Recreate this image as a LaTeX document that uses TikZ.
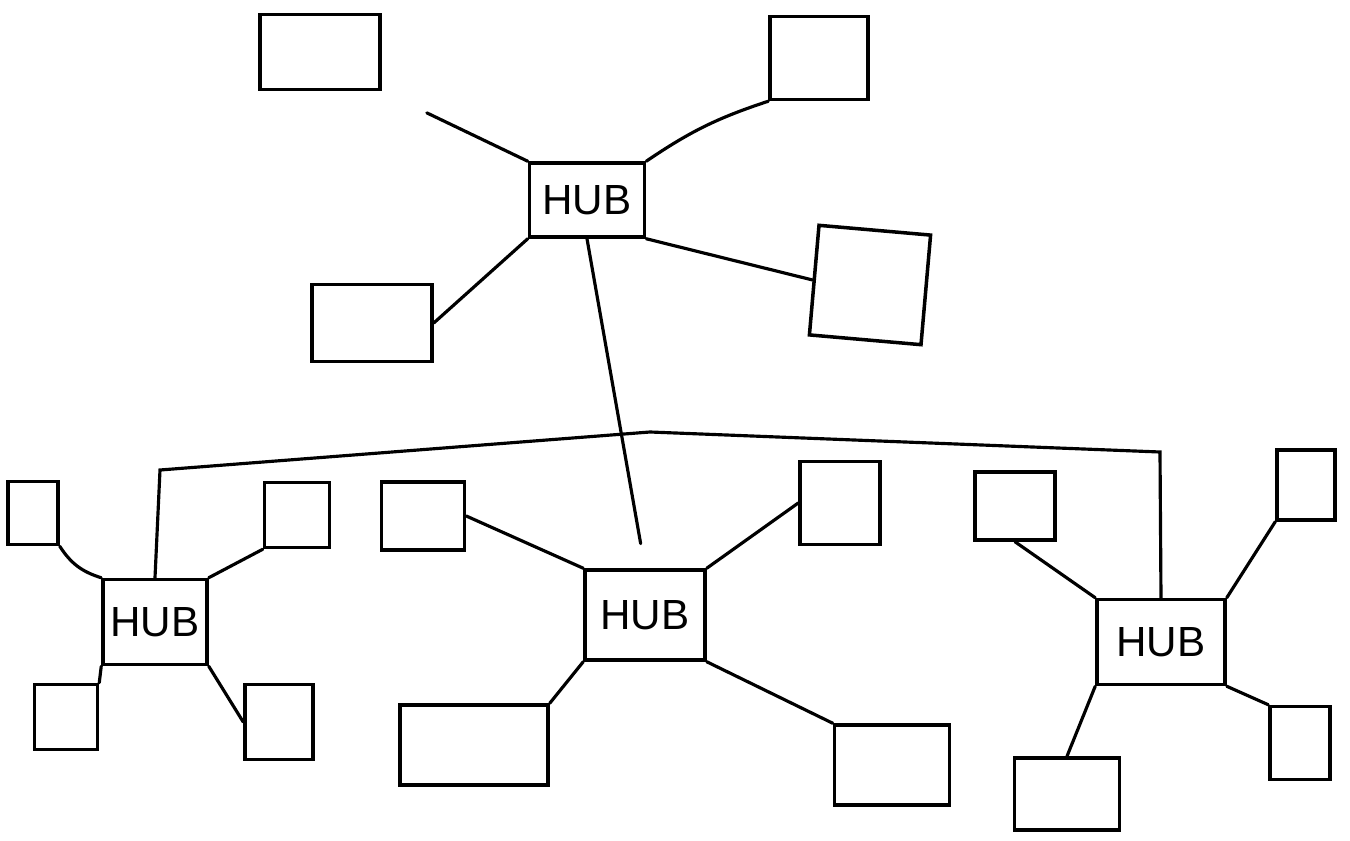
\documentclass[tikz,border=0pt]{standalone}
\usepackage{fontspec}
\setmainfont{Liberation Sans}
\begin{document}
\begin{tikzpicture}[x=0.02cm,y=-0.02cm,
  dev/.style 2 args={draw, line width=2pt, rectangle, inner sep=0pt,
    minimum width=#1*0.02cm, minimum height=#2*0.02cm},
  hub/.style 2 args={dev={#1}{#2}, font=\fontsize{24}{26}\selectfont},
  link/.style={line width=1.8pt, line cap=round}]
\useasboundingbox (0,0) rectangle (1350,841);

% top level
\node[hub={115}{74}] (TH) at (587,200) {HUB};
\node[dev={120}{75}] (B1) at (320,52) {};
\node[dev={98}{83}]  (B2) at (819,58) {};
\node[dev={120}{77}] (B3) at (372,323) {};
\node[dev={112}{110}, rotate=-5] (B4) at (870,285) {};

% second level hubs
\node[hub={104}{85}]  (LH) at (155,622) {HUB};
\node[hub={120}{90}]  (MH) at (645,615) {HUB};
\node[hub={128}{85}]  (RH) at (1161,642) {HUB};

% left hub devices
\node[dev={50}{63}] (L0) at (33,513) {};
\node[dev={65}{65}] (L1) at (297,515) {};
\node[dev={63}{65}] (L2) at (66,717) {};
\node[dev={68}{75}] (L3) at (279,722) {};

% middle hub devices
\node[dev={83}{68}]  (M1) at (423,516) {};
\node[dev={80}{83}]  (M2) at (840,503) {};
\node[dev={148}{80}] (M3) at (474,745) {};
\node[dev={115}{80}] (M4) at (892,765) {};

% right hub devices
\node[dev={80}{68}]  (R1) at (1015,506) {};
\node[dev={58}{70}]  (R2) at (1306,485) {};
\node[dev={105}{72}] (R3) at (1067,794) {};
\node[dev={60}{73}]  (R4) at (1300,743) {};

% bus coordinates
\coordinate (busL) at (160,470);
\coordinate (busM) at (650,432);
\coordinate (busR) at (1160,452);

% top hub links
\draw[link, shorten >=1cm] (TH.north west) -- (B1.south east);
\draw[link] (TH.north east) to[bend left=8] (B2.south west);
\draw[link] (TH.south west) -- (B3.east);
\draw[link] (TH.south east) -- (B4.west);
\draw[link, shorten >=0.5cm] (TH.south) -- (MH.north);

% bus linking left and right hubs
\draw[link] (LH.north) -- (busL) -- (busM) -- (busR) -- (RH.north);

% left hub links
\draw[link] (LH.north west) to[bend left=20] (L0.south east);
\draw[link] (LH.north east) -- (L1.south west);
\draw[link] (LH.south west) -- (L2.north east);
\draw[link] (LH.south east) -- (L3.west);

% middle hub links
\draw[link] (MH.north west) -- (M1.east);
\draw[link] (MH.north east) -- (M2.west);
\draw[link] (MH.south west) -- (M3.north east);
\draw[link] (MH.south east) -- (M4.north west);

% right hub links
\draw[link] (RH.north west) -- (R1.south);
\draw[link] (RH.north east) -- (R2.south west);
\draw[link] (RH.south west) -- (R3.north);
\draw[link] (RH.south east) -- (R4.north west);
\end{tikzpicture}
\end{document}
